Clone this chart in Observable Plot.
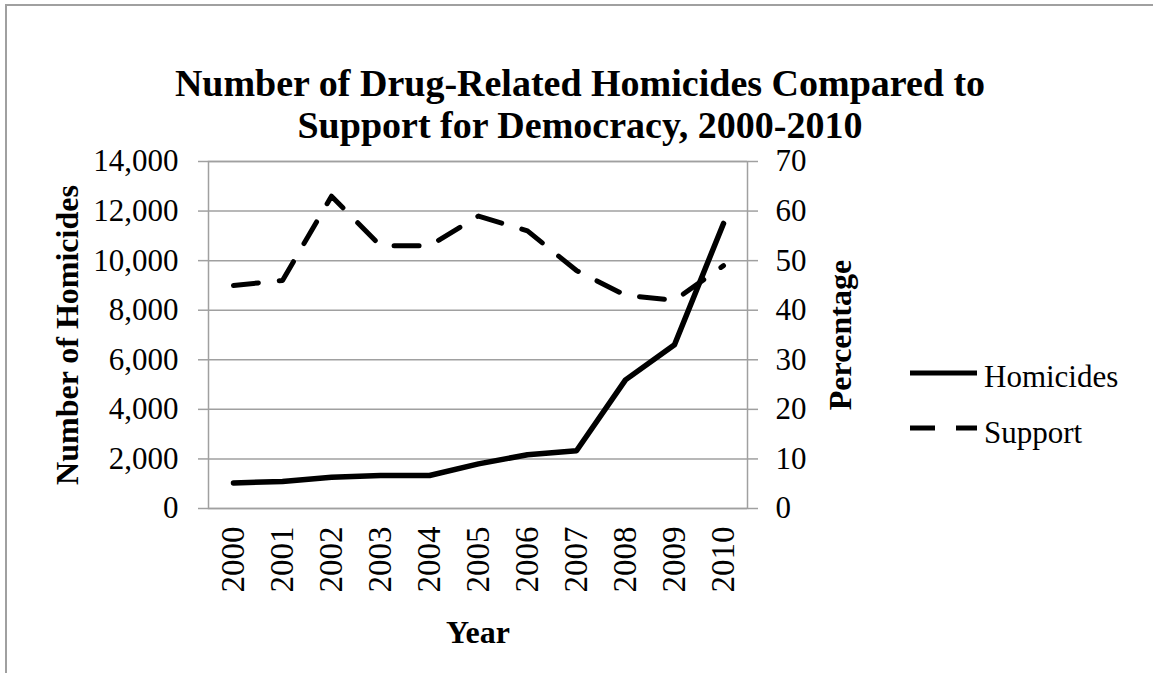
<!DOCTYPE html>
<html><head><meta charset="utf-8">
<script src="https://cdn.jsdelivr.net/npm/d3@7"></script>
<script src="https://cdn.jsdelivr.net/npm/@observablehq/plot@0.6"></script>
<style>
html,body{margin:0;padding:0;background:#fff;}
#wrap{position:relative;width:1153px;height:673px;overflow:hidden;font-family:"Liberation Serif","Times New Roman",serif;color:#000;}
#border{position:absolute;left:5px;top:4px;width:1300px;height:900px;border-left:2px solid #a0a0a0;border-top:2px solid #a0a0a0;}
#title{position:absolute;left:0;top:62px;width:1160px;text-align:center;font-weight:bold;font-size:38px;line-height:42px;}
#chart{position:absolute;left:0;top:150px;}
.lg{position:absolute;font-size:31px;line-height:31px;white-space:nowrap;}
.sw{position:absolute;}
g[aria-label$="axis label"] text{font-weight:bold;font-size:32px;}
</style></head>
<body>
<div id="wrap">
  <div id="border"></div>
  <div id="title">Number of Drug-Related Homicides Compared to<br>Support for Democracy, 2000-2010</div>
  <div id="chart"></div>
  <div id="legend"></div>
</div>
<script>
const years = ["2000","2001","2002","2003","2004","2005","2006","2007","2008","2009","2010"];
const homicides = [1030, 1090, 1260, 1330, 1330, 1800, 2170, 2330, 5190, 6610, 11500];
const support = [45, 46, 63, 53, 53, 59, 56, 48, 43, 42, 49];
const leftTicks = [0, 2000, 4000, 6000, 8000, 10000, 12000, 14000];
const rightTicks = [0, 10, 20, 30, 40, 50, 60, 70];
const seriesNames = ["Homicides", "Support"];

const RATIO = 14000 / 70; // right axis 0–70 aligned to left axis 0–14,000
const homData = years.map((y, i) => ({year: y, value: homicides[i]}));
const supData = years.map((y, i) => ({year: y, value: support[i] * RATIO}));

const grid = "#a0a0a0";
const chart = Plot.plot({
  width: 1153, height: 523,
  marginTop: 11, marginBottom: 165, marginLeft: 208, marginRight: 406,
  style: {fontFamily: "'Liberation Serif','Times New Roman',serif", fontSize: "31px", color: "black", background: "transparent", overflow: "visible"},
  x: {type: "point", domain: years, padding: 0.5},
  y: {domain: [0, 14000]},
  marks: [
    Plot.ruleY(leftTicks, {stroke: grid, strokeWidth: 1.5}),
    Plot.frame({stroke: grid, strokeWidth: 1.5}),
    Plot.axisY(leftTicks, {anchor: "left", tickSize: 10, tickPadding: 20, stroke: grid, strokeWidth: 1.5, fill: "black",
      tickFormat: d3.format(","), label: "Number of Homicides", labelAnchor: "center", labelOffset: 153, labelArrow: false}),
    Plot.axisY(rightTicks.map(d => d * RATIO), {anchor: "right", tickSize: 10, tickPadding: 18, stroke: grid, strokeWidth: 1.5, fill: "black",
      tickFormat: d => String(Math.round(d / RATIO)), label: "Percentage", labelAnchor: "center", labelOffset: 103, labelArrow: false}),
    Plot.axisX({anchor: "bottom", tickSize: 0, tickRotate: -90, tickPadding: 18, fill: "black", fontSize: 33,
      label: "Year", labelAnchor: "center", labelOffset: 134, labelArrow: false}),
    Plot.line(supData, {x: "year", y: "value", stroke: "black", strokeWidth: 5, strokeDasharray: "25,21"}),
    Plot.line(homData, {x: "year", y: "value", stroke: "black", strokeWidth: 5.5})
  ]
});
document.getElementById("chart").appendChild(chart);

// legend
const legend = document.getElementById("legend");
const items = [
  {name: seriesNames[0], dash: null, y: 373, top: 361},
  {name: seriesNames[1], dash: "25,21", y: 428, top: 417}
];
for (const it of items) {
  const ns = "http://www.w3.org/2000/svg";
  const svg = document.createElementNS(ns, "svg");
  svg.setAttribute("width", 70); svg.setAttribute("height", 12);
  svg.setAttribute("class", "sw");
  svg.style.left = "909px"; svg.style.top = (it.y - 6) + "px";
  const ln = document.createElementNS(ns, "line");
  ln.setAttribute("x1", 1); ln.setAttribute("x2", 68); ln.setAttribute("y1", 6); ln.setAttribute("y2", 6);
  ln.setAttribute("stroke", "black"); ln.setAttribute("stroke-width", 5);
  if (it.dash) ln.setAttribute("stroke-dasharray", it.dash);
  svg.appendChild(ln);
  legend.appendChild(svg);
  const t = document.createElement("div");
  t.className = "lg"; t.textContent = it.name;
  t.style.left = "984px"; t.style.top = it.top + "px";
  legend.appendChild(t);
}
</script>
</body></html>
